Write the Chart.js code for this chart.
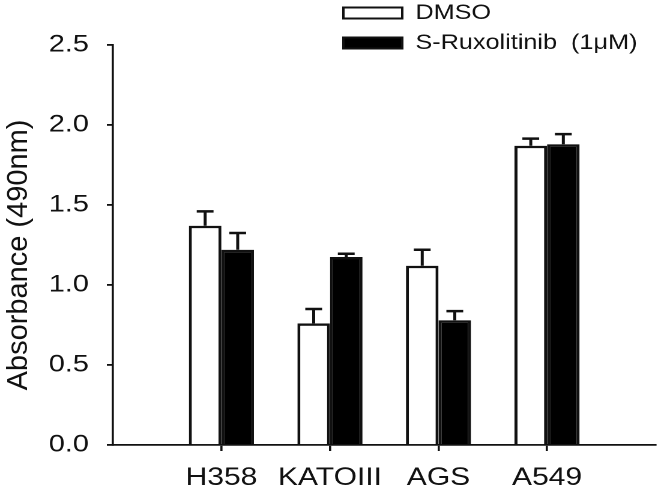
<!DOCTYPE html>
<html>
<head>
<meta charset="utf-8">
<script src="https://cdn.jsdelivr.net/npm/chart.js@4.4.1/dist/chart.umd.min.js"></script>
<style>
  html, body { margin: 0; padding: 0; background: #fff; overflow: hidden; }
  /* the source figure is stretched sideways, so the chart is drawn narrow and widened */
  #wrap { width: 558px; height: 495px; transform: scaleX(1.2007); transform-origin: 0 0; }
</style>
</head>
<body>
<div id="wrap"><canvas id="chart" width="558" height="495"></canvas></div>
<script>
const cellLines = ['H358', 'KATOIII', 'AGS', 'A549'];
const dmso = [1.37, 0.76, 1.12, 1.87];
const dmsoErr = [0.09, 0.09, 0.10, 0.045];
const rux = [1.22, 1.175, 0.78, 1.88];
const ruxErr = [0.105, 0.02, 0.057, 0.063];
const yTicks = [0, 0.5, 1.0, 1.5, 2.0, 2.5];
const yTitle = 'Absorbance (490nm)';

const FONT = "'Liberation Sans', Arial, sans-serif";
const INK = '#111';
const STRETCH = 1.2007;

// empty slot on each side gives the wide margins of the original x axis
const labels = ['', ...cellLines, ''];
const pad = arr => [null, ...arr, null];

const errorBars = {
  id: 'errorBars',
  afterDatasetsDraw(chart) {
    const ctx = chart.ctx;
    const y = chart.scales.y;
    chart.data.datasets.forEach((ds, di) => {
      const meta = chart.getDatasetMeta(di);
      meta.data.forEach((bar, i) => {
        const v = ds.data[i], e = ds.errors[i];
        if (v == null || e == null) return;
        const top = y.getPixelForValue(v + e);
        ctx.save();
        ctx.strokeStyle = INK;
        ctx.lineWidth = 2.5;
        ctx.beginPath();
        ctx.moveTo(bar.x, bar.y);
        ctx.lineTo(bar.x, top);
        ctx.moveTo(bar.x - 7, top);
        ctx.lineTo(bar.x + 7, top);
        ctx.stroke();
        ctx.restore();
      });
    });
  }
};

const boxLegend = {
  id: 'boxLegend',
  afterDraw(chart) {
    const ctx = chart.ctx;
    ctx.save();
    ctx.font = '21px ' + FONT;
    ctx.textBaseline = 'middle';
    chart.data.datasets.forEach((ds, i) => {
      const yc = 13 + i * 30;
      ctx.fillStyle = ds.backgroundColor;
      ctx.fillRect(286, yc - 5.5, 49, 11);
      ctx.strokeStyle = INK;
      ctx.lineWidth = 2;
      ctx.strokeRect(286, yc - 5.5, 49, 11);
      ctx.fillStyle = INK;
      ctx.fillText(ds.label, 346, yc);
    });
    ctx.restore();
  }
};

// rotated axis title, drawn without the sideways stretch (it is not widened in the source)
const axisTitle = {
  id: 'axisTitle',
  afterDraw(chart) {
    const ctx = chart.ctx;
    const a = chart.chartArea;
    ctx.save();
    ctx.translate(16, (a.top + a.bottom) / 2 + 10);
    ctx.scale(1 / STRETCH, 1);
    ctx.rotate(-Math.PI / 2);
    ctx.font = '29px ' + FONT;
    ctx.fillStyle = INK;
    ctx.textAlign = 'center';
    ctx.textBaseline = 'middle';
    ctx.fillText(yTitle, 0, 0);
    ctx.restore();
  }
};

new Chart(document.getElementById('chart'), {
  type: 'bar',
  data: {
    labels,
    datasets: [
      { label: 'DMSO', data: pad(dmso), errors: pad(dmsoErr),
        backgroundColor: '#ffffff', borderColor: INK, borderWidth: 2.5 },
      { label: 'S-Ruxolitinib  (1\u03bcM)', data: pad(rux), errors: pad(ruxErr),
        backgroundColor: '#000000', borderColor: INK, borderWidth: 2.5 }
    ]
  },
  options: {
    responsive: false,
    animation: false,
    devicePixelRatio: 2,
    layout: { padding: { top: 45, right: 0, left: 0, bottom: 0 } },
    datasets: { bar: { categoryPercentage: 0.6, barPercentage: 1.0 } },
    plugins: { legend: { display: false }, tooltip: { enabled: false } },
    scales: {
      x: {
        offset: false,
        grid: {
          offset: false,
          drawOnChartArea: false,
          tickLength: 6,
          lineWidth: 1.8,
          color: c => (c.tick && c.tick.label ? INK : 'rgba(0,0,0,0)')
        },
        border: { display: true, color: INK, width: 1.8 },
        ticks: { autoSkip: false, maxRotation: 0, padding: 12, color: INK, font: { family: FONT, size: 25 } },
        afterFit: s => { s.height = 50; }
      },
      y: {
        min: 0,
        max: 2.5,
        afterBuildTicks: s => { s.ticks = yTicks.map(v => ({ value: v })); },
        grid: { drawOnChartArea: false, tickLength: 5, lineWidth: 1.8, color: INK },
        border: { display: true, color: INK, width: 1.8 },
        ticks: { padding: 15, color: INK, font: { family: FONT, size: 24 }, callback: v => v.toFixed(1) },
        afterFit: s => { s.width = 94; }
      }
    }
  },
  plugins: [errorBars, boxLegend, axisTitle]
});
</script>
</body>
</html>
